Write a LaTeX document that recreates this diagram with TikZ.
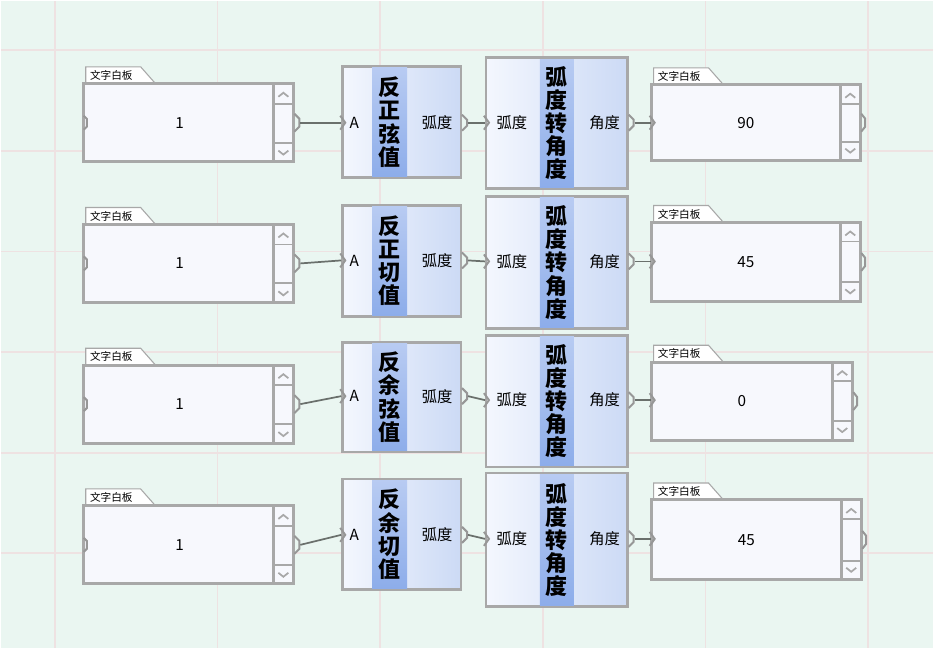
\documentclass[tikz,border=0pt]{standalone}
\usepackage{fontspec}
\setmainfont{Noto Sans CJK SC}
\usetikzlibrary{calc}
\definecolor{bgmint}{HTML}{EAF6F1}
\definecolor{gridpink}{HTML}{EEE2E2}
\definecolor{edge}{HTML}{A8A8A8}
\definecolor{boardfill}{HTML}{F7F8FD}
\definecolor{blockl}{HTML}{F4F7FE}
\definecolor{blockr}{HTML}{CCDAF5}
\definecolor{colt}{HTML}{B8CBF2}
\definecolor{colb}{HTML}{8DADEA}
\definecolor{wirec}{HTML}{6A706C}
\tikzset{grid/.style = {draw=gridpink, line width=1.4pt}}
\tikzset{board/.style = {draw=edge, fill=boardfill, line width=2.2pt}}
\tikzset{block/.style = {draw=edge, line width=2.2pt, left color=blockl, right color=blockr}}
\tikzset{wire/.style = {draw=wirec, line width=1.3pt}}
\tikzset{port/.style = {draw=edge!90!black, line width=1.5pt}}
\tikzset{chev/.style = {draw=edge, line width=1.3pt}}
\tikzset{tab/.style = {draw=edge, fill=white, line width=0.8pt}}
\tikzset{tabtext/.style = {font=\fontsize{8}{9}\selectfont, anchor=west, inner sep=0}}
\tikzset{lbl/.style = {font=\fontsize{11.5}{13}\selectfont, inner sep=0}}
\tikzset{ttl/.style = {font=\fontsize{16.5}{17.4}\selectfont\bfseries, align=center, inner sep=0}}

\begin{document}
\begin{tikzpicture}[x=0.75pt,y=-0.75pt]
\fill[bgmint] (0,0) rectangle (934,648);
\foreach \gx in {54.5,217,380,543,706,869} \draw[grid] (\gx,0) -- (\gx,648);
\foreach \gy in {49,150,251,352,453,553} \draw[grid] (0,\gy) -- (934,\gy);
% one row per inverse function
\foreach \r/\ic/\ft/\fb/\ay/\ct/\cb/\py/\ot/\ob/\orr/\fn/\val in {
  1/122/66/177/122/57/188/122/84/160/861/{反\\正\\弦\\值}/90,
  2/263/205/316/260/196/328/261/222/301/861/{反\\正\\切\\值}/45,
  3/404/342/452/396/335/467/400/362/440/853/{反\\余\\弦\\值}/0,
  4/545/479/590/535/473/607/539/500/580/862/{反\\余\\切\\值}/45}{
  % input board
  \draw[tab] (85,\ic-39) -- (85,\ic-56) -- (140,\ic-56) -- (155,\ic-39);
  \node[tabtext] at (89,\ic-47.5) {文字白板};
  \draw[board] (83,\ic-39) rectangle (293,\ic+39);
  \draw[board] (273,\ic-39) rectangle (293,\ic+39);
  \draw[edge, line width=1.4pt] (273,\ic-19) -- (293,\ic-19) (273,\ic+20) -- (293,\ic+20);
  \draw[chev] (278,\ic-26) -- (283,\ic-30) -- (288,\ic-26);
  \draw[chev] (278,\ic+28) -- (283,\ic+32) -- (288,\ic+28);
  \draw[port] (83,\ic-7) -- (86,\ic-4) -- (86,\ic+4) -- (83,\ic+7);
  \draw[port] (294,\ic-9) -- (299,\ic-4) -- (299,\ic+4) -- (294,\ic+9);
  \node[lbl] (in\r) at (179,\ic) {1};
  \coordinate (src\r) at (300,\ic);
  % inverse function block
  \draw[block] (342,\ft) rectangle (461,\fb);
  \shade[top color=colt, bottom color=colb] (372,\ft+1.2) rectangle (407,\fb-1.2);
  \node[ttl] (fn\r) at (389.5,{(\ft+\fb)/2}) {\fn};
  \node[lbl, anchor=west] (fa\r) at (349,\ay) {A};
  \node[lbl] (fr\r) at (437,\ay) {弧度};
  \draw[port] (340,\ay-7) -- (345,\ay) -- (340,\ay+7);
  \draw[port] (462,\ay-8) -- (467,\ay-3) -- (467,\ay+3) -- (462,\ay+8);
  \coordinate (fin\r) at (341,\ay);
  \coordinate (fout\r) at (468,\ay);
  % radian to degree block
  \draw[block] (486,\ct) rectangle (628,\cb);
  \shade[top color=colt, bottom color=colb] (540,\ct+1.2) rectangle (574,\cb-1.2);
  \node[ttl] (cv\r) at (557,{(\ct+\cb)/2}) {弧\\度\\转\\角\\度};
  \node[lbl] (cl\r) at (512,\py) {弧度};
  \node[lbl] (cr\r) at (605,\py) {角度};
  \draw[port] (484,\py-7) -- (489,\py) -- (484,\py+7);
  \draw[port] (629,\py-8) -- (634,\py-3) -- (634,\py+3) -- (629,\py+8);
  \coordinate (cin\r) at (485,\py);
  \coordinate (cout\r) at (635,\py);
  % output board
  \pgfmathsetmacro{\oc}{(\ot+\ob)/2}
  \draw[tab] (654,\ot) -- (654,\ot-17) -- (709,\ot-17) -- (724,\ot);
  \node[tabtext] at (658,\ot-8.5) {文字白板};
  \draw[board] (652,\ot) rectangle (\orr,\ob);
  \draw[board] (\orr-20,\ot) rectangle (\orr,\ob);
  \draw[edge, line width=1.4pt] (\orr-20,\ot+19) -- (\orr,\ot+19) (\orr-20,\ob-19) -- (\orr,\ob-19);
  \draw[chev] (\orr-15,\ot+13) -- (\orr-10,\ot+9) -- (\orr-5,\ot+13);
  \draw[chev] (\orr-15,\ob-12) -- (\orr-10,\ob-8) -- (\orr-5,\ob-12);
  \draw[port] (\orr+1,\oc-9) -- (\orr+5,\oc-4) -- (\orr+5,\oc+4) -- (\orr+1,\oc+9);
  \draw[port] (650,\py-7) -- (655,\py) -- (650,\py+7);
  \node[lbl] (out\r) at ({(652+\orr-20)/2},\oc) {\val};
  \coordinate (oin\r) at (651,\py);
  % wires
  \draw[wire] (src\r) -- (fin\r);
  \draw[wire] (fout\r) -- (cin\r);
  \draw[wire] (cout\r) -- (oin\r);
}
\end{tikzpicture}
\end{document}
